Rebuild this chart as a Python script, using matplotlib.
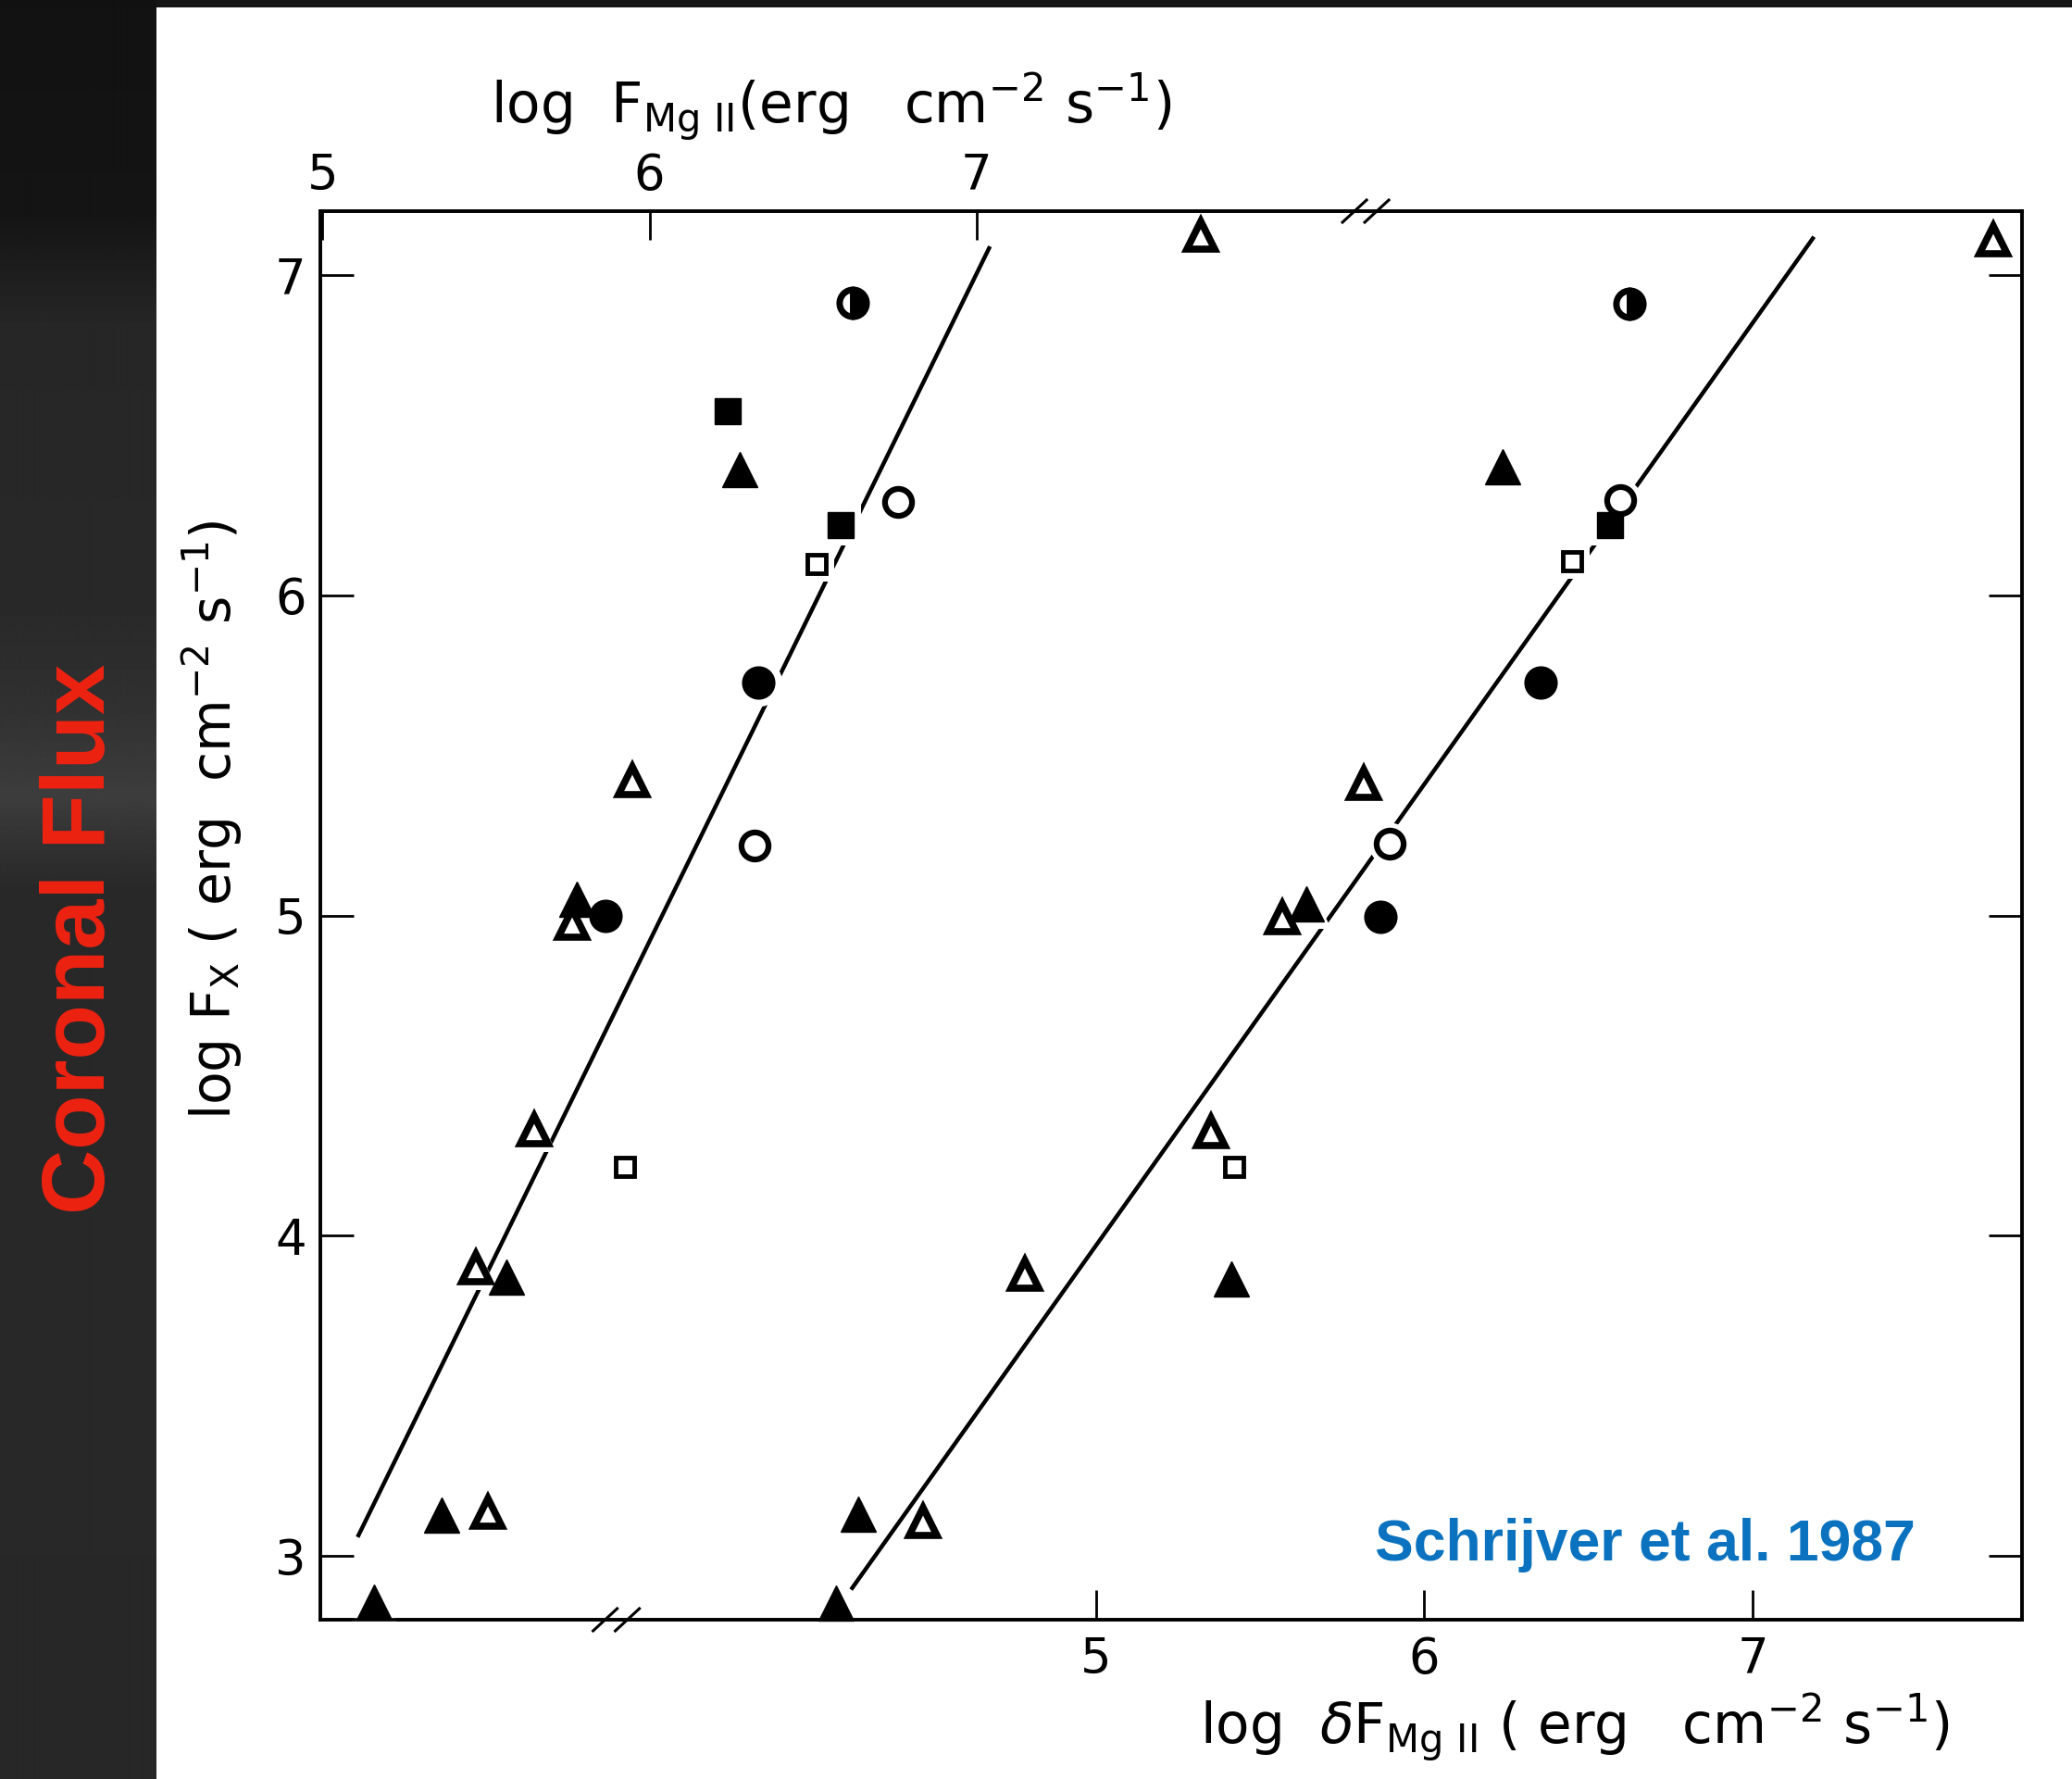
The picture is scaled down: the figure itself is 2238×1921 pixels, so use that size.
import numpy as np
import matplotlib
matplotlib.use("Agg")
import matplotlib.pyplot as plt
from matplotlib.patches import Rectangle

# ---------------- data ----------------
# Left group: plotted against the top axis, log F_MgII
L_ftri_F  = [6.275, 5.777, 5.561, 5.364, 5.158]
L_ftri_Fx = [6.394, 5.052, 3.870, 3.127, 2.857]
L_otri_F  = [7.686, 5.947, 5.763, 5.647, 5.468, 5.506]
L_otri_Fx = [7.124, 5.421, 4.975, 4.331, 3.901, 3.137]
L_fcir_F  = [6.332, 5.864]
L_fcir_Fx = [5.727, 5.000]
L_ocir_F  = [6.760, 6.321]
L_ocir_Fx = [6.291, 5.219]
L_hcir_F  = [6.620]
L_hcir_Fx = [6.913]
L_fsq_F   = [6.238, 6.585]
L_fsq_Fx  = [6.575, 6.220]
L_osq_F   = [6.512, 5.924]
L_osq_Fx  = [6.099, 4.214]
L_fit_F   = [5.107, 7.041]
L_fit_Fx  = [3.059, 7.090]

# Right group: plotted against the bottom axis, log dF_MgII
R_ftri_dF = [6.240, 5.640, 5.413, 4.276, 4.209]
R_ftri_Fx = [6.401, 5.038, 3.866, 3.130, 2.852]
R_otri_dF = [7.732, 5.815, 5.568, 5.350, 4.783, 4.474]
R_otri_Fx = [7.109, 5.413, 4.993, 4.324, 3.879, 3.107]
R_fcir_dF = [6.354, 5.867]
R_fcir_Fx = [5.727, 4.996]
R_ocir_dF = [6.596, 5.894]
R_ocir_Fx = [6.298, 5.225]
R_hcir_dF = [6.625]
R_hcir_Fx = [6.910]
R_fsq_dF  = [6.566]
R_fsq_Fx  = [6.220]
R_osq_dF  = [6.449, 5.421]
R_osq_Fx  = [6.106, 4.214]
R_fit_dF  = [4.255, 7.187]
R_fit_Fx  = [2.895, 7.120]

x_ticks_bottom = [5, 6, 7]
x_ticks_top = [5, 6, 7]
y_ticks = [3, 4, 5, 6, 7]
break_bottom_dF = 3.54
break_top_F = 8.19

# ---------------- figure ----------------
W, H = 2238, 1921
fig = plt.figure(figsize=(W / 100, H / 100), dpi=100)
fig.patch.set_facecolor("#161616")

# background: dark left strip with sheen, white page
bg = fig.add_axes([0, 0, 1, 1])
bg.set_xlim(0, W)
bg.set_ylim(H, 0)
bg.axis("off")
rows = np.arange(H)
prof = np.interp(rows, [0, 230, 350, 650, 760, 860, 905, 960, 1921],
                 [0.07, 0.08, 0.15, 0.16, 0.19, 0.24, 0.20, 0.16, 0.155])
grad = np.repeat(prof[:, None], 20, axis=1)
bg.imshow(grad, cmap="gray", vmin=0, vmax=1, extent=(0, 169, H, 0), aspect="auto",
          interpolation="bilinear")
bg.add_patch(Rectangle((169, 8), W - 169, H - 8, facecolor="white", edgecolor="none"))


def px(x, y):
    return x / W, 1 - y / H


# main axes
l, r, t, b = 346, 2183.5, 228, 1749
ax = fig.add_axes([l / W, 1 - b / H, (r - l) / W, (b - t) / H])
ax.set_facecolor("none")
ax.set_xlim(2.639, 7.819)
ax.set_ylim(2.801, 7.200)
ax2 = ax.twiny()
ax2.set_xlim(4.993, 10.196)

marker_styles = {
    "ftri": dict(marker="^", ms=27, mfc="black", mec="black", mew=1),
    "otri": dict(marker="^", ms=22, mfc="white", mec="black", mew=5.5),
    "fcir": dict(marker="o", ms=25, mfc="black", mec="black", mew=1),
    "ocir": dict(marker="o", ms=21, mfc="white", mec="black", mew=4.5),
    "hcir": dict(marker="o", ms=21, mfc="black", mec="black", mew=5,
                 fillstyle="right", markerfacecoloralt="white"),
    "fsq": dict(marker="s", ms=20, mfc="black", mec="black", mew=1),
    "osq": dict(marker="s", ms=15, mfc="white", mec="black", mew=3.5),
}

left_groups = [("ftri", L_ftri_F, L_ftri_Fx), ("otri", L_otri_F, L_otri_Fx),
               ("fcir", L_fcir_F, L_fcir_Fx), ("ocir", L_ocir_F, L_ocir_Fx),
               ("hcir", L_hcir_F, L_hcir_Fx), ("fsq", L_fsq_F, L_fsq_Fx),
               ("osq", L_osq_F, L_osq_Fx)]
right_groups = [("ftri", R_ftri_dF, R_ftri_Fx), ("otri", R_otri_dF, R_otri_Fx),
                ("fcir", R_fcir_dF, R_fcir_Fx), ("ocir", R_ocir_dF, R_ocir_Fx),
                ("hcir", R_hcir_dF, R_hcir_Fx), ("fsq", R_fsq_dF, R_fsq_Fx),
                ("osq", R_osq_dF, R_osq_Fx)]

# fit lines
ax.plot(R_fit_dF, R_fit_Fx, color="black", lw=3.2, solid_capstyle="butt", zorder=2)
ax2.plot(L_fit_F, L_fit_Fx, color="black", lw=3.2, solid_capstyle="butt", zorder=2)

for axis, groups in ((ax, right_groups), (ax2, left_groups)):
    # white halos to open gaps in the fit lines
    for key, xs, ys in groups:
        st = marker_styles[key]
        axis.plot(xs, ys, ls="none", marker=st["marker"], ms=st["ms"] + 12,
                  mfc="white", mec="white", mew=0, zorder=3, clip_on=False)
    for key, xs, ys in groups:
        axis.plot(xs, ys, ls="none", zorder=4, clip_on=False, **marker_styles[key])

# spines
for a in (ax, ax2):
    for s in a.spines.values():
        s.set_linewidth(2.6)
        s.set_zorder(6)

# ticks
ax.set_xticks(x_ticks_bottom)
ax.set_yticks(y_ticks)
ax.tick_params(axis="x", direction="in", length=23, width=2.0, labelsize=38, pad=12,
               top=False)
ax.tick_params(axis="y", direction="in", length=26, width=2.0, labelsize=38, pad=11,
               right=True)
ax2.set_xticks(x_ticks_top)
ax2.tick_params(axis="x", direction="in", length=22, width=2.0, labelsize=38, pad=9)

# axis breaks "//"
def slashes(xc_axes, y_axes):
    dx = 13 / (r - l)
    dy = 12 / (b - t)
    off = 12 / (r - l)
    for o in (-off, off):
        ax2.plot([xc_axes + o - dx, xc_axes + o + dx], [y_axes - dy, y_axes + dy],
                 color="black", lw=2.2, transform=ax2.transAxes, clip_on=False, zorder=10)

xb = (break_bottom_dF - ax.get_xlim()[0]) / (ax.get_xlim()[1] - ax.get_xlim()[0])
xt = (break_top_F - ax2.get_xlim()[0]) / (ax2.get_xlim()[1] - ax2.get_xlim()[0])
slashes(xb, 0.0)
slashes(xt, 1.0)

# axis labels
fig.text(*px(530, 133), r"log  F$_{\mathrm{Mg\ II}}$(erg   cm$^{-2}$ s$^{-1}$)",
         fontsize=43, ha="left", va="baseline")
fig.text(*px(1296, 1883), r"log  $\delta$F$_{\mathrm{Mg\ II}}$ ( erg   cm$^{-2}$ s$^{-1}$)",
         fontsize=43, ha="left", va="baseline")
fig.text(*px(250, 885), r"log F$_{\mathrm{X}}$ ( erg  cm$^{-2}$ s$^{-1}$)",
         fontsize=42, rotation=90, rotation_mode="anchor", ha="center", va="baseline")

# annotations
fig.text(*px(88, 1014), "Coronal Flux", rotation=90, color="#EE2211", fontsize=70,
         fontweight="bold", family="Liberation Sans", ha="center", va="center")
fig.text(*px(1485, 1685), "Schrijver et al. 1987", color="#0A72BE", fontsize=45,
         fontweight="bold", family="Liberation Sans", ha="left", va="baseline")

fig.savefig("out.png", dpi=100, facecolor=fig.get_facecolor())
